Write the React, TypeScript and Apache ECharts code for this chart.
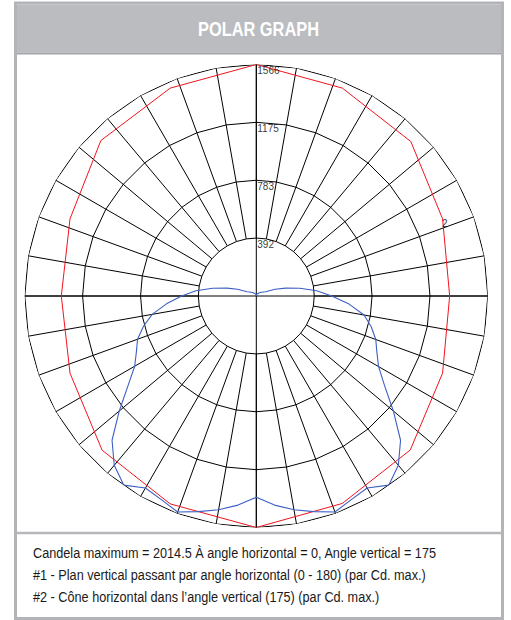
import React, { useEffect, useRef } from 'react';
import * as echarts from 'echarts';

// ---------- data ----------
const titleText = 'POLAR GRAPH';
const radiusMax = 1566;
const radiusTicks = [392, 783, 1175, 1566];
const gridAngleStep = 10;

// #2 – horizontal cone (angle clockwise from top, value in cd scale)
const redAngles = [0, 22.5, 45, 67.5, 90, 112.5, 135, 157.5, 180, 202.5, 225, 247.5, 270, 292.5, 315, 337.5, 360];
const redValues = [1566, 1522, 1478, 1364, 1308, 1364, 1473, 1519, 1566, 1522, 1475, 1364, 1319, 1364, 1487, 1522, 1566];

// #1 – vertical plane (vertical angle from top, both halves)
const blueAngles = [0, 5, 10, 15, 20, 25, 30, 35, 40, 45, 50, 55, 60, 65, 70, 75, 80, 85, 90, 95, 100, 105, 110, 115, 120, 125, 130, 135, 140, 145, 150, 155, 160, 165, 170, 175, 180];
const blueRight = [0, 3, 6, 9, 12, 15, 18, 22, 26, 31, 37, 45, 55, 69, 135, 205, 300, 410, 510, 630, 740, 805, 860, 900, 955, 1060, 1210, 1380, 1495, 1562, 1500, 1520, 1555, 1510, 1468, 1420, 1362];
const blueLeft = [0, 3, 6, 9, 12, 15, 18, 22, 26, 31, 37, 45, 55, 69, 135, 205, 300, 410, 505, 610, 715, 790, 855, 895, 950, 1060, 1210, 1380, 1495, 1562, 1500, 1520, 1555, 1510, 1468, 1420, 1362];

const curveLabelNames = ['1', '2'];
const curveLabelRadius = [1597, 1366];
const curveLabelAngles = [155, 69];

const footerLines = [
  'Candela maximum = 2014.5 À angle horizontal = 0, Angle vertical = 175',
  '#1 - Plan vertical passant par angle horizontal (0 - 180) (par Cd. max.)',
  '#2 - Cône horizontal dans l\u2019angle vertical (175) (par Cd. max.)',
];

// ---------- layout ----------
const W = 511;
const H = 620;
const CX = 256.3;
const CY = 296;
const R = 231.5;
const SANS = '"Liberation Sans", Arial, sans-serif';

function buildOption() {
  const innerR = (R * radiusTicks[0]) / radiusMax;
  const ringAngles: number[] = [];
  for (let a = 0; a <= 360; a += gridAngleStep) ringAngles.push(a);

  const ringSeries = radiusTicks.map((t) => ({
    type: 'line',
    coordinateSystem: 'polar',
    polarIndex: 0,
    silent: true,
    symbol: 'none',
    z: 1,
    lineStyle: { color: '#000', width: 1 },
    data: ringAngles.map((a) => [t, a]),
  }));

  const redData = redAngles.map((a, i) => [redValues[i], a]);
  const blueData: number[][] = [];
  blueAngles.forEach((a, i) => blueData.push([blueRight[i], a]));
  for (let i = blueAngles.length - 1; i >= 0; i--) blueData.push([blueLeft[i], 360 - blueAngles[i]]);

  const hiddenAxisParts = {
    axisLine: { show: false },
    axisTick: { show: false },
    axisLabel: { show: false },
  };

  return {
    animation: false,
    polar: [
      { center: [CX, CY], radius: R },
      { center: [CX, CY], radius: [innerR, R] },
    ],
    angleAxis: [
      {
        polarIndex: 0, type: 'value', min: 0, max: 360, interval: 90, startAngle: 90, clockwise: true,
        ...hiddenAxisParts,
        splitLine: { show: true, lineStyle: { color: '#000', width: 1 } },
      },
      {
        polarIndex: 1, type: 'value', min: 0, max: 360, interval: gridAngleStep, startAngle: 90, clockwise: true,
        ...hiddenAxisParts,
        splitLine: { show: true, lineStyle: { color: '#000', width: 1 } },
      },
    ],
    radiusAxis: [
      { polarIndex: 0, type: 'value', min: 0, max: radiusMax, show: false },
      { polarIndex: 1, type: 'value', min: 0, max: 1, show: false },
    ],
    series: [
      ...ringSeries,
      {
        type: 'line', coordinateSystem: 'polar', polarIndex: 0, symbol: 'none', z: 3, silent: true,
        lineStyle: { color: '#f2141e', width: 1 },
        data: redData,
      },
      {
        type: 'line', coordinateSystem: 'polar', polarIndex: 0, symbol: 'none', z: 4, silent: true,
        lineStyle: { color: '#3d5fc4', width: 1.1 },
        data: blueData,
      },
      {
        type: 'scatter', coordinateSystem: 'polar', polarIndex: 0, symbolSize: 0, z: 5, silent: true,
        data: radiusTicks.map((t) => [t, 0]),
        label: {
          show: true, position: [1, 1], align: 'left', verticalAlign: 'top',
          formatter: (p: any) => String(p.value[0]),
          fontSize: 10, fontFamily: SANS, color: '#000',
        },
      },
      {
        type: 'scatter', coordinateSystem: 'polar', polarIndex: 0, symbolSize: 0, z: 5, silent: true,
        data: curveLabelNames.map((n, i) => ({ name: n, value: [curveLabelRadius[i], curveLabelAngles[i]] })),
        label: {
          show: true, position: 'inside', align: 'center', verticalAlign: 'middle',
          formatter: (p: any) => p.name,
          fontSize: 10, fontFamily: SANS, color: '#000',
        },
      },
    ],
    graphic: [
      {
        type: 'rect', silent: true, z: -1,
        shape: { x: 17, y: 4.5, width: 484, height: 48 },
        style: { fill: '#bbbcc0' },
      },
      {
        type: 'line', silent: true,
        shape: { x1: 17, y1: 53.5, x2: 501, y2: 53.5 },
        style: { stroke: '#a4a5a9', lineWidth: 2 },
      },
      {
        type: 'line', silent: true,
        shape: { x1: 17, y1: 533, x2: 501, y2: 533 },
        style: { stroke: '#b6b7bb', lineWidth: 2.5 },
      },
      {
        type: 'rect', silent: true,
        shape: { x: 15.5, y: 3, width: 487, height: 615.5 },
        style: { fill: 'none', stroke: '#b3b4b8', lineWidth: 3 },
      },
      {
        type: 'text', silent: true, x: 258.5, y: 29, scaleX: 0.78, scaleY: 1,
        style: {
          text: titleText, fill: '#ffffff', fontSize: 21, fontWeight: 'bold', fontFamily: SANS,
          align: 'center', verticalAlign: 'middle',
        },
      },
      ...footerLines.map((line, i) => ({
        type: 'text', silent: true, x: 33, y: 553 + i * 22.2, scaleX: 0.905, scaleY: 1,
        style: {
          text: line, fill: '#1a1a1a', fontSize: 14, fontFamily: SANS,
          align: 'left', verticalAlign: 'middle',
        },
      })),
    ],
  };
}

export default function App() {
  const ref = useRef<HTMLDivElement>(null);
  useEffect(() => {
    if (!ref.current) return;
    const chart = echarts.init(ref.current, undefined, { renderer: 'svg' });
    chart.setOption(buildOption() as any);
    return () => chart.dispose();
  }, []);
  return (
    <div
      ref={ref}
      style={{ position: 'absolute', left: 0, top: 0, width: W, height: H, background: '#fff' }}
    />
  );
}
